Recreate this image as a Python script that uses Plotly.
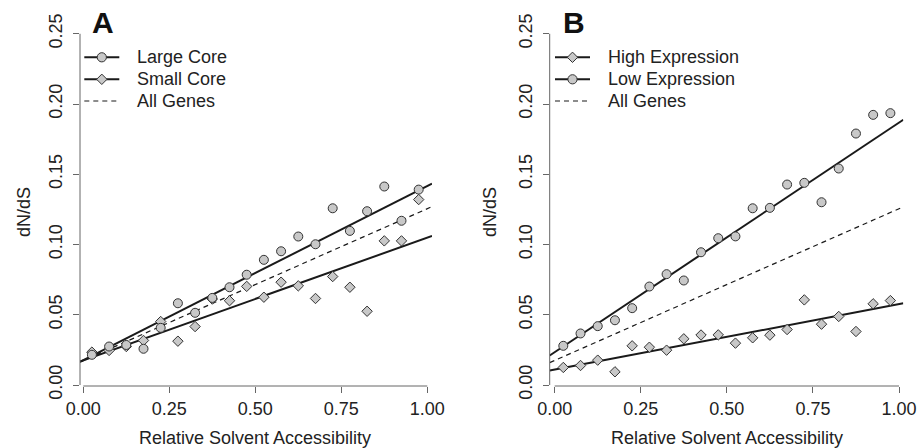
import plotly.graph_objects as go

# ---------------- data ----------------
rsa_bins = [0.025, 0.075, 0.125, 0.175, 0.225, 0.275, 0.325, 0.375, 0.425, 0.475,
            0.525, 0.575, 0.625, 0.675, 0.725, 0.775, 0.825, 0.875, 0.925, 0.975]

large_core = [0.0215, 0.0274, 0.0285, 0.0258, 0.0407, 0.0582, 0.0514, 0.0620, 0.0696, 0.0785,
              0.0891, 0.0952, 0.1057, 0.1002, 0.1258, 0.1097, 0.1237, 0.1413, 0.1169, 0.1391]
small_core = [0.0234, 0.0246, 0.0274, 0.0317, 0.0452, 0.0312, 0.0416, 0.0612, 0.0600, 0.0702,
              0.0625, 0.0732, 0.0706, 0.0616, 0.0772, 0.0696, 0.0525, 0.1026, 0.1026, 0.1320]
high_expr = [0.0125, 0.0139, 0.0177, 0.0094, 0.0279, 0.0269, 0.0248, 0.0329, 0.0356, 0.0357,
             0.0298, 0.0336, 0.0355, 0.0395, 0.0606, 0.0433, 0.0488, 0.0381, 0.0578, 0.0601]
low_expr = [0.0279, 0.0367, 0.0419, 0.0461, 0.0547, 0.0701, 0.0789, 0.0744, 0.0945, 0.1045,
            0.1058, 0.1258, 0.1261, 0.1427, 0.1439, 0.1301, 0.1541, 0.1790, 0.1923, 0.1935]

# regression lines (intercept, slope)
fit_large = (0.0177, 0.1240)
fit_small = (0.0176, 0.0873)
fit_all = (0.0175, 0.1080)
fit_low = (0.0234, 0.1634)
fit_high = (0.0110, 0.0466)

x_ticks = [0.0, 0.25, 0.5, 0.75, 1.0]
x_ticktext = ["0.00", "0.25", "0.50", "0.75", "1.00"]
y_ticks = [0.0, 0.05, 0.10, 0.15, 0.20, 0.25]
y_ticktext = ["0.00", "0.05", "0.10", "0.15", "0.20", "0.25"]

legend_a = ["Large Core", "Small Core", "All Genes"]
legend_b = ["High Expression", "Low Expression", "All Genes"]

# ---------------- style ----------------
W, H = 918, 448
FONT = "Liberation Sans, Arial, Helvetica, sans-serif"
TXT = "#222222"
AX = "#666666"
FILL = "#c8c8c8"
EDGE = "#333333"
LINEC = "#1a1a1a"

xr_a = [-0.0096, 1.0137]
xr_b = [-0.0145, 1.0125]
yr = [-0.0007, 0.2527]


def px(x):
    return x / W


def py(y):
    return 1 - y / H


fig = go.Figure()


def add_fit(fit, xr, xa, ya, dashed=False):
    b0, b1 = fit
    xs = [xr[0], xr[1]]
    ys = [b0 + b1 * v for v in xs]
    fig.add_trace(go.Scatter(
        x=xs, y=ys, mode="lines", xaxis=xa, yaxis=ya, showlegend=False, hoverinfo="skip",
        line=dict(color=LINEC, width=1.2 if dashed else 2, dash="5px,4px" if dashed else "solid"),
    ))


def add_pts(vals, symbol, xa, ya, name):
    fig.add_trace(go.Scatter(
        x=rsa_bins, y=vals, mode="markers", xaxis=xa, yaxis=ya, name=name, showlegend=False,
        marker=dict(symbol=symbol, size=9 if symbol == "circle" else 8, color=FILL,
                    line=dict(color=EDGE, width=1)),
    ))


# Panel A
add_fit(fit_all, xr_a, "x", "y", dashed=True)
add_fit(fit_small, xr_a, "x", "y")
add_fit(fit_large, xr_a, "x", "y")
add_pts(small_core, "diamond", "x", "y", "Small Core")
add_pts(large_core, "circle", "x", "y", "Large Core")

# Panel B
add_fit(fit_all, xr_b, "x2", "y2", dashed=True)
add_fit(fit_high, xr_b, "x2", "y2")
add_fit(fit_low, xr_b, "x2", "y2")
add_pts(high_expr, "diamond", "x2", "y2", "High Expression")
add_pts(low_expr, "circle", "x2", "y2", "Low Expression")

ydom = [py(386), py(30)]

xaxis_common = dict(showgrid=False, zeroline=False, showline=False, ticks="outside",
                    ticklen=6, tickwidth=1, tickcolor=AX, tickvals=x_ticks, ticktext=x_ticktext,
                    automargin=False,
                    tickfont=dict(size=18, color=TXT, family=FONT), ticklabelstandoff=0)
yaxis_common = dict(showgrid=False, zeroline=False, showline=False, ticks="outside",
                    ticklen=6, tickwidth=1, tickcolor=AX, tickvals=y_ticks, ticktext=y_ticktext,
                    tickangle=-90, range=yr, domain=ydom, automargin=False,
                    tickfont=dict(size=18, color=TXT, family=FONT), ticklabelstandoff=4)

fig.update_layout(
    width=W, height=H, margin=dict(l=0, r=0, t=0, b=0, autoexpand=False),
    paper_bgcolor="white", plot_bgcolor="white", showlegend=False,
    font=dict(family=FONT, size=18, color=TXT),
    xaxis=dict(domain=[px(80), px(432)], range=xr_a, anchor="y", **xaxis_common),
    yaxis=dict(anchor="x", **yaxis_common),
    xaxis2=dict(domain=[px(549.7), px(903.3)], range=xr_b, anchor="y2", **xaxis_common),
    yaxis2=dict(anchor="x2", **yaxis_common),
)

shapes = []
annotations = []
for xa, ya in [("x", "y"), ("x2", "y2")]:
    # R-style axis lines spanning first to last tick
    shapes.append(dict(type="line", xref=f"{xa} domain", yref=ya, x0=0, x1=0,
                       y0=y_ticks[0], y1=y_ticks[-1], line=dict(color=AX, width=1)))
    shapes.append(dict(type="line", xref=xa, yref=f"{ya} domain", x0=x_ticks[0], x1=x_ticks[-1],
                       y0=0, y1=0, line=dict(color=AX, width=1)))

# axis titles and panel letters
for cx, cxt, letter, lx in [(24, 255.3, "A", 103), (490, 726.9, "B", 574)]:
    annotations.append(dict(text="dN/dS", x=px(cx), y=py(212), xref="paper", yref="paper",
                            xanchor="center", yanchor="middle", textangle=-90, showarrow=False,
                            font=dict(size=18, color=TXT, family=FONT)))
    annotations.append(dict(text="Relative Solvent Accessibility", x=px(cxt), y=py(438),
                            xref="paper", yref="paper", xanchor="center", yanchor="middle",
                            showarrow=False, font=dict(size=18, color=TXT, family=FONT)))
    annotations.append(dict(text=f"<b>{letter}</b>", x=px(lx), y=py(23), xref="paper", yref="paper",
                            xanchor="center", yanchor="middle", showarrow=False,
                            font=dict(size=30, color="#111111", family=FONT)))


# manual R-style legends
def legend_block(x0, labels, symbols):
    rows = [57.3, 79.3, 101.0]
    for lab, sym, ry in zip(labels, symbols, rows):
        if sym == "dash":
            shapes.append(dict(type="line", xref="paper", yref="paper", x0=px(x0), x1=px(x0 + 35),
                               y0=py(ry), y1=py(ry), line=dict(color=LINEC, width=1.2, dash="5px,4px")))
        else:
            shapes.append(dict(type="line", xref="paper", yref="paper", x0=px(x0), x1=px(x0 + 35),
                               y0=py(ry), y1=py(ry), line=dict(color=LINEC, width=2)))
            cx = x0 + 17.5
            if sym == "circle":
                shapes.append(dict(type="circle", xref="paper", yref="paper",
                                   x0=px(cx - 4.6), x1=px(cx + 4.6), y0=py(ry + 4.6), y1=py(ry - 4.6),
                                   fillcolor=FILL, line=dict(color=EDGE, width=1)))
            else:
                r = 5.2
                path = (f"M {px(cx - r)},{py(ry)} L {px(cx)},{py(ry - r)} "
                        f"L {px(cx + r)},{py(ry)} L {px(cx)},{py(ry + r)} Z")
                shapes.append(dict(type="path", xref="paper", yref="paper", path=path,
                                   fillcolor=FILL, line=dict(color=EDGE, width=1)))
        annotations.append(dict(text=lab, x=px(x0 + 50.5), y=py(ry), xref="paper", yref="paper",
                                xanchor="left", yanchor="middle", showarrow=False,
                                font=dict(size=18, color=TXT, family=FONT)))


legend_block(84.3, legend_a, ["circle", "diamond", "dash"])
legend_block(555.0, legend_b, ["diamond", "circle", "dash"])

fig.update_layout(shapes=shapes, annotations=annotations)
fig.write_html(
    "out.html",
    config={"displayModeBar": False},
    post_script="document.body.style.margin='0';document.body.style.overflow='hidden';",
)
